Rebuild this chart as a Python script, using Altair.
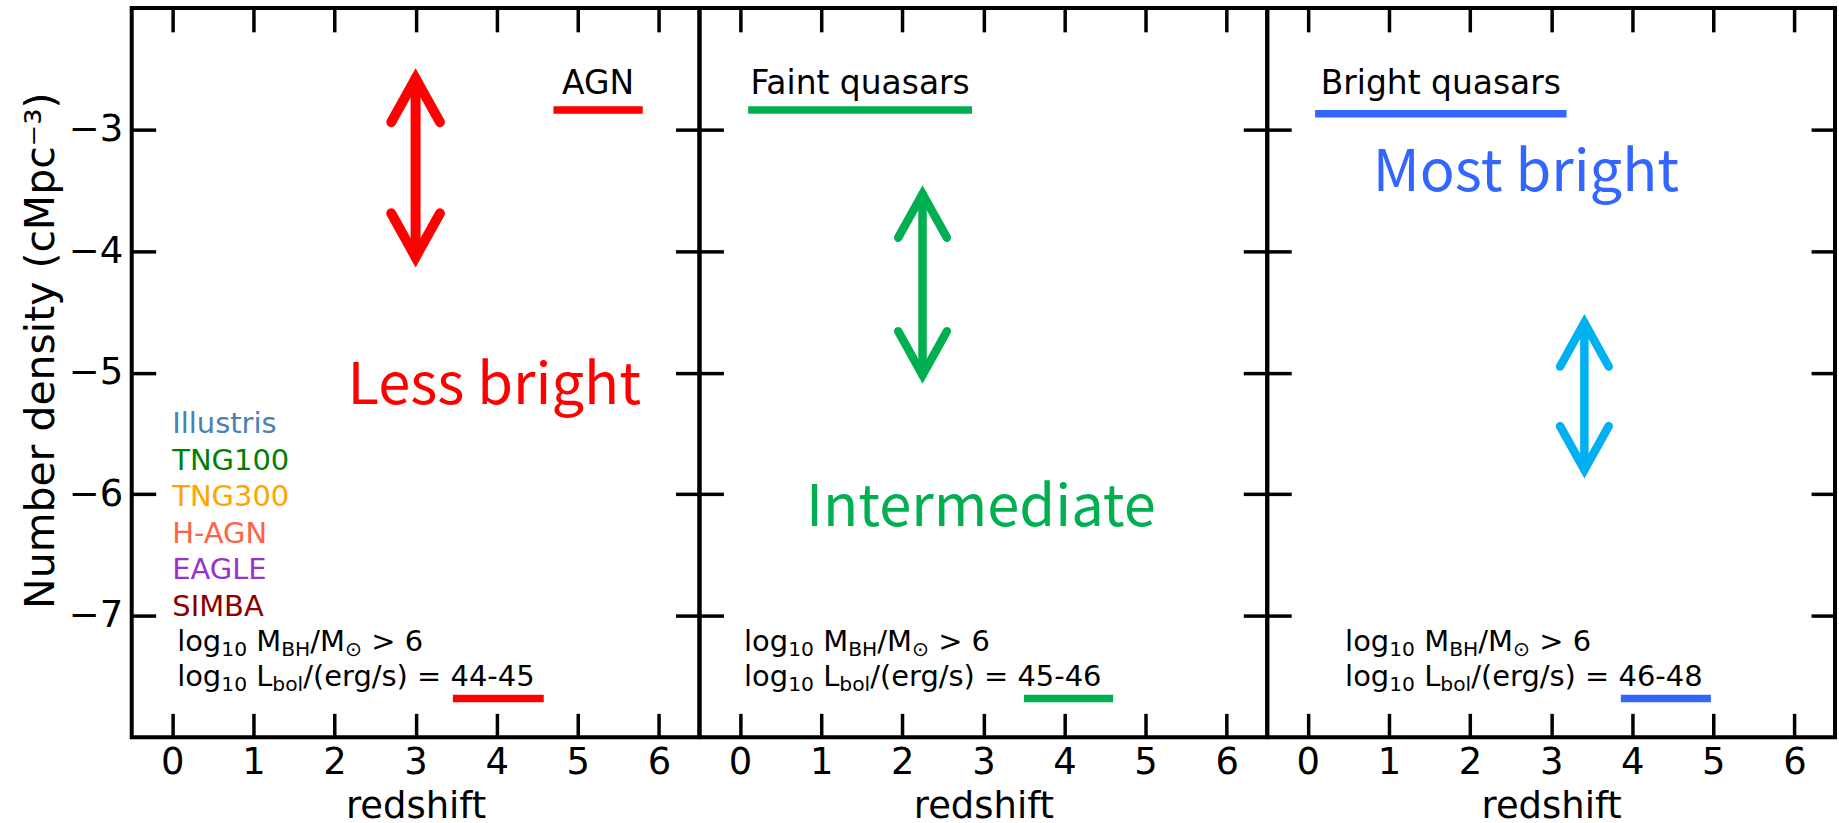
import altair as alt
import pandas as pd

# ---------------- values ----------------
x_ticks = [0, 1, 2, 3, 4, 5, 6]
y_ticks = [-7, -6, -5, -4, -3]
x_domain = [-0.5, 6.5]
y_domain = [-8, -2]

top_labels = ["AGN", "Faint quasars", "Bright quasars"]
top_label_y = [-2.71, -2.71, -2.71]
top_bar_x1 = [4.70, 0.10, 0.09]
top_bar_x2 = [5.80, 2.86, 3.19]
top_bar_y = [-2.84, -2.84, -2.87]
bar_colors = ["#FF0000", "#00B050", "#3366FF"]

big_labels = ["Less bright", "Intermediate", "Most bright"]
big_x = [3.97, 2.97, 2.69]
big_y = [-5.26, -6.26, -3.51]
big_colors = ["#FF0000", "#00B050", "#3366FF"]

arrow_x = [3.00, 2.25, 3.41]
arrow_top = [-2.58, -3.53, -4.59]
arrow_bottom = [-4.05, -5.02, -5.80]
arrow_head_len = 0.36
arrow_head_half = 0.30
arrow_colors = ["#FF0000", "#00B050", "#00B0F0"]

lum_ranges = ["44-45", "45-46", "46-48"]
cond_x = [0.06, 0.05, 0.46]
cond_y = [-7.29, -7.58]
low_bar_x1 = [3.46, 3.50, 3.86]
low_bar_x2 = [4.58, 4.60, 4.97]
low_bar_y = [-7.68, -7.68, -7.68]

sims = ["Illustris", "TNG100", "TNG300", "H-AGN", "EAGLE", "SIMBA"]
sim_colors = ["#4682B4", "#008000", "#FFA500", "#FF6347", "#9932CC", "#8B0000"]
sim_y = [-5.5, -5.8, -6.1, -6.4, -6.7, -7.0]
sim_x = 0.0

# ---------------- styles ----------------
FONT = "DejaVu Sans"
BIG_FONT = "Noto Sans CJK JP"
AX_FS = 37
TXT = 29
SUB = 0.7 * TXT
SUB_SHIFT = 5
TOP_FS = 33
BIG_FS = 58
TICK_LEN = 24
PW, PH = 569, 731

# DejaVu Sans advance widths (em) for laying out sub-scripted pieces
W = {" ": 0.318, "l": 0.278, "o": 0.612, "g": 0.635, "1": 0.636, "0": 0.636,
     "M": 0.863, "B": 0.686, "H": 0.752, "/": 0.337, "⊙": 0.838, ">": 0.838,
     "6": 0.636, "L": 0.557, "b": 0.635, "(": 0.390, "e": 0.615, "r": 0.411,
     "s": 0.521, ")": 0.390, "=": 0.838, "4": 0.636, "5": 0.636, "8": 0.636,
     "-": 0.361}


def seg_rows(segs):
    rows, off = [], 0.0
    for txt, sub in segs:
        fs = SUB if sub else TXT
        lead = len(txt) - len(txt.lstrip(" "))
        off += lead * W[" "] * fs
        t = txt.strip(" ")
        rows.append((t, fs, off, SUB_SHIFT if sub else 0))
        off += sum(W[c] for c in t) * fs
    return rows


def tick_axis(orient, values):
    return alt.Axis(orient=orient, values=values, offset=-TICK_LEN, tickSize=TICK_LEN,
                    tickWidth=3.5, tickColor="black", labels=False, domain=False,
                    grid=False, title=None)


def panel(i):
    xs = alt.Scale(domain=x_domain, nice=False, zero=False)
    ys = alt.Scale(domain=y_domain, nice=False, zero=False)

    def X(axis=None, field="x:Q"):
        return alt.X(field, scale=xs, axis=axis)

    def Y(axis=None, field="y:Q"):
        return alt.Y(field, scale=ys, axis=axis)

    corners = pd.DataFrame({"x": x_domain, "y": y_domain})
    carrier = alt.Chart(corners).mark_point(opacity=0, size=1)

    x_lab_axis = alt.Axis(orient="bottom", values=x_ticks, ticks=False, tickSize=0,
                          domain=False, grid=False, labelFont=FONT, labelFontSize=AX_FS,
                          labelColor="black", labelPadding=7.5, title="redshift",
                          titleFont=FONT, titleFontSize=AX_FS, titleFontWeight="normal",
                          titleColor="black", titlePadding=8)
    y_lab_axis = alt.Axis(orient="left", values=y_ticks, ticks=False, tickSize=0,
                          domain=False, grid=False, labelFont=FONT, labelFontSize=AX_FS,
                          labelColor="black", labelPadding=9,
                          title="Number density (cMpc\u207b\u00b3)",
                          titleFont=FONT, titleFontSize=41, titleFontWeight="normal",
                          titleColor="black", titleX=-69, titleY=343)

    layers = [
        carrier.encode(x=X(x_lab_axis), y=Y(y_lab_axis if i == 0 else None)),
        carrier.encode(x=X(tick_axis("bottom", x_ticks)), y=Y()),
        carrier.encode(x=X(tick_axis("top", x_ticks)), y=Y()),
        carrier.encode(x=X(), y=Y(tick_axis("left", y_ticks))),
        carrier.encode(x=X(), y=Y(tick_axis("right", y_ticks))),
    ]

    # double-headed arrow
    ax, at, ab = arrow_x[i], arrow_top[i], arrow_bottom[i]
    hl, hh = arrow_head_len, arrow_head_half
    arrow = pd.DataFrame([
        {"seg": "shaft", "o": 0, "x": ax, "y": at},
        {"seg": "shaft", "o": 1, "x": ax, "y": ab},
        {"seg": "up", "o": 0, "x": ax - hh, "y": at - hl},
        {"seg": "up", "o": 1, "x": ax, "y": at},
        {"seg": "up", "o": 2, "x": ax + hh, "y": at - hl},
        {"seg": "down", "o": 0, "x": ax - hh, "y": ab + hl},
        {"seg": "down", "o": 1, "x": ax, "y": ab},
        {"seg": "down", "o": 2, "x": ax + hh, "y": ab + hl},
    ])
    layers.append(
        alt.Chart(arrow).mark_line(color=arrow_colors[i], strokeWidth=10 if i == 0 else 8.5,
                                   strokeCap="round", strokeJoin="miter", strokeMiterLimit=20)
        .encode(x=X(), y=Y(), detail="seg:N", order="o:Q")
    )

    # coloured underlines
    bars = pd.DataFrame({
        "x": [top_bar_x1[i], low_bar_x1[i]],
        "x2": [top_bar_x2[i], low_bar_x2[i]],
        "y": [top_bar_y[i], low_bar_y[i]],
    })
    layers.append(
        alt.Chart(bars).mark_rule(color=bar_colors[i], strokeWidth=7.5, strokeCap="butt")
        .encode(x=X(), x2="x2:Q", y=Y())
    )

    # condition lines built from pieces (normal + subscript)
    lines = [
        (cond_y[0], [("log", False), ("10", True), (" M", False), ("BH", True),
                     ("/M", False), ("⊙", True), (" > 6", False)]),
        (cond_y[1], [("log", False), ("10", True), (" L", False), ("bol", True),
                     ("/(erg/s) = " + lum_ranges[i], False)]),
    ]
    for yy, segs in lines:
        for t, fs, off, sh in seg_rows(segs):
            d = pd.DataFrame({"x": [cond_x[i]], "y": [yy], "text": [t]})
            layers.append(
                alt.Chart(d).mark_text(align="left", baseline="alphabetic", font=FONT,
                                       fontSize=fs, dx=off, dy=sh, color="black")
                .encode(x=X(), y=Y(), text="text:N")
            )

    # simulation names (first panel)
    if i == 0:
        sd = pd.DataFrame({"x": [sim_x] * len(sims), "y": sim_y, "text": sims,
                           "color": sim_colors})
        layers.append(
            alt.Chart(sd).mark_text(align="left", baseline="alphabetic", font=FONT,
                                    fontSize=TXT)
            .encode(x=X(), y=Y(), text="text:N", color=alt.Color("color:N", scale=None))
        )

    # top label
    top = pd.DataFrame({"x": [(top_bar_x1[i] + top_bar_x2[i]) / 2], "y": [top_label_y[i]],
                        "text": [top_labels[i]]})
    layers.append(
        alt.Chart(top).mark_text(align="center", baseline="alphabetic", font=FONT,
                                 fontSize=TOP_FS, color="black")
        .encode(x=X(), y=Y(), text="text:N")
    )

    # big coloured label
    big = pd.DataFrame({"x": [big_x[i]], "y": [big_y[i]], "text": [big_labels[i]]})
    layers.append(
        alt.Chart(big).mark_text(align="center", baseline="alphabetic", font=BIG_FONT,
                                 fontSize=BIG_FS, color=big_colors[i])
        .encode(x=X(), y=Y(), text="text:N")
    )

    return (alt.layer(*layers)
            .resolve_axis(x="independent", y="independent")
            .properties(width=PW, height=PH))


chart = (alt.hconcat(panel(0), panel(1), panel(2), spacing=0, bounds="flush")
         .properties(padding={"left": 19, "top": -25, "right": 0, "bottom": 20})
         .configure_view(stroke="black", strokeWidth=4))

chart.save("out.html", embed_options={"renderer": "svg", "actions": False})
